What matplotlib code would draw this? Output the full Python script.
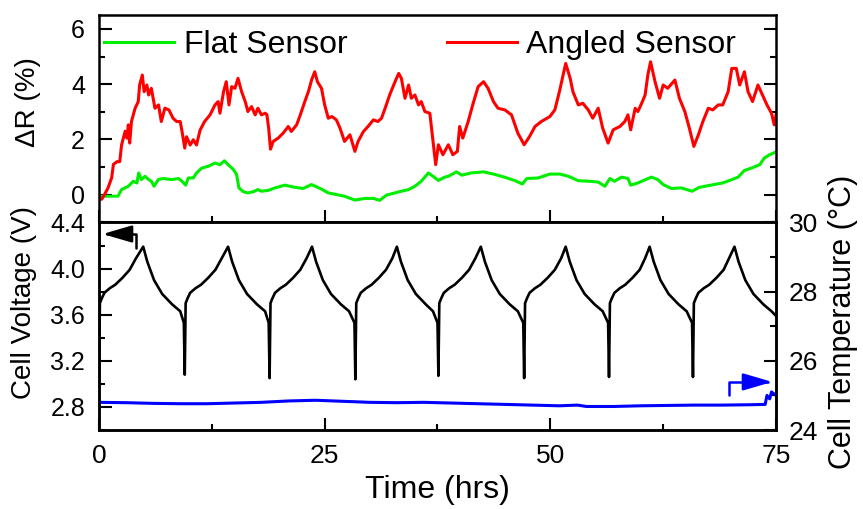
import matplotlib
matplotlib.use("Agg")
import matplotlib.pyplot as plt
from matplotlib.ticker import MultipleLocator

plt.rcParams['font.family'] = ['Liberation Sans', 'DejaVu Sans']

# ---- data ----
# resistance change, angled sensor (red)
t_red = [0.0, 0.3, 0.6, 1.0, 1.4, 1.6, 2.0, 2.3, 2.5, 2.9, 3.1, 3.25, 3.4, 3.6, 4.0, 4.35, 4.5, 4.8,
         5.0, 5.3, 5.5, 5.8, 6.2, 6.6, 6.9, 7.3, 7.75, 8.2, 8.6, 9.0, 9.2, 9.5, 9.7, 10.1, 10.45,
         10.8, 11.2, 11.7, 12.3, 12.85, 13.2, 13.4, 13.8, 14.1, 14.4, 14.7, 15.06, 15.4, 15.8, 16.2,
         16.5, 16.9, 17.3, 17.6, 18.0, 18.4, 18.6, 18.8, 19.0, 19.3, 19.85, 20.4, 20.97, 21.3, 21.9,
         22.3, 22.8, 23.2, 23.55, 23.9, 24.2, 24.65, 25.0, 25.4, 25.8, 26.3, 26.7, 27.2, 27.8, 28.35,
         28.7, 29.3, 29.8, 30.4, 30.9, 31.3, 31.7, 32.2, 32.8, 33.2, 33.5, 33.9, 34.3, 34.6, 35.0,
         35.4, 35.7, 36.1, 36.65, 37.0, 37.3, 37.6, 38.1, 38.7, 39.2, 39.7, 39.95, 40.3, 40.9, 41.4,
         42.0, 42.6, 43.1, 43.7, 44.2, 44.96, 45.7, 46.4, 47.1, 47.7, 48.3, 49.0, 49.95, 50.5, 51.05,
         51.7, 52.2, 52.5, 53.1, 53.6, 54.2, 54.7, 55.3, 55.8, 56.4, 56.96, 57.7, 58.25, 58.6, 58.9,
         59.4, 59.7, 60.2, 60.5, 60.8, 61.1, 61.6, 62.1, 62.5, 63.0, 63.8, 64.3, 64.9, 65.4, 65.9,
         66.4, 66.9, 67.5, 68.0, 68.6, 69.1, 69.7, 70.1, 70.6, 70.98, 71.5, 71.9, 72.4, 73.0, 73.5,
         74.0, 74.5, 74.8, 75.0]
dr_red = [-0.1, -0.16, 0.0, 0.25, 0.61, 1.1, 1.2, 1.2, 1.8, 2.3, 2.05, 2.53, 1.87, 2.65, 3.13, 3.37,
          3.97, 4.33, 3.73, 3.97, 3.61, 3.85, 3.13, 3.25, 2.65, 3.13, 3.07, 2.77, 2.65, 2.65, 2.29,
          1.69, 2.1, 1.8, 1.99, 1.8, 2.34, 2.65, 2.89, 3.25, 3.37, 2.95, 3.73, 4.09, 3.25, 3.91, 3.85,
          4.21, 3.73, 3.37, 3.01, 3.19, 2.89, 3.13, 2.89, 2.95, 2.9, 2.4, 1.65, 1.93, 2.05, 2.23, 2.47,
          2.29, 2.53, 2.89, 3.37, 3.73, 4.15, 4.45, 4.09, 3.85, 3.25, 2.77, 2.83, 2.71, 2.41, 1.93,
          2.17, 1.57, 1.93, 2.29, 2.47, 2.71, 2.65, 2.77, 3.13, 3.61, 4.09, 4.39, 4.21, 3.49, 3.97,
          3.49, 3.61, 3.25, 3.37, 3.01, 2.95, 1.93, 1.09, 1.81, 1.45, 1.81, 1.45, 1.57, 2.47, 2.05,
          2.65, 3.25, 3.91, 4.09, 3.85, 3.37, 3.13, 3.07, 2.89, 2.23, 1.81, 2.11, 2.47, 2.65, 2.83,
          3.07, 3.79, 4.75, 4.21, 3.73, 3.25, 3.31, 3.07, 2.77, 3.13, 2.41, 1.87, 2.35, 2.47, 2.65,
          2.89, 2.35, 3.13, 3.01, 3.37, 3.61, 4.33, 4.81, 4.09, 3.49, 3.97, 3.85, 4.15, 3.49, 3.01,
          2.41, 1.75, 2.17, 2.65, 3.13, 3.07, 3.25, 3.25, 3.73, 4.57, 4.57, 3.97, 4.45, 3.73, 3.37,
          3.97, 3.61, 3.25, 2.95, 2.53, 2.89]

# resistance change, flat sensor (green)
t_green = [0.0, 1.4, 2.1, 2.5, 3.25, 3.8, 4.2, 4.4, 4.7, 5.1, 5.5, 5.8, 6.1, 6.57, 7.1, 8.05, 8.8,
           9.2, 9.6, 9.9, 10.45, 10.8, 11.4, 12.1, 12.85, 13.4, 13.9, 14.3, 14.9, 15.25, 15.5, 16.0,
           16.5, 17.1, 17.6, 18.0, 18.75, 19.5, 20.6, 21.7, 22.6, 23.55, 24.5, 25.4, 26.3, 27.2,
           28.35, 29.45, 30.4, 31.1, 31.85, 32.8, 33.5, 34.3, 35.0, 35.7, 36.5, 37.0, 37.6, 38.3,
           38.7, 39.6, 40.2, 41.2, 42.6, 43.7, 45.0, 46.1, 46.9, 47.4, 48.65, 49.95, 51.05, 52.0,
           53.1, 54.4, 55.3, 56.05, 56.6, 57.1, 57.9, 58.6, 58.9, 59.7, 61.2, 61.9, 62.5, 63.4, 64.5,
           65.7, 66.5, 67.8, 69.1, 70.1, 70.8, 71.5, 72.3, 73.2, 73.7, 74.3, 75.0]
dr_green = [-0.05, -0.05, -0.05, 0.19, 0.31, 0.49, 0.43, 0.79, 0.55, 0.67, 0.55, 0.49, 0.31, 0.55,
            0.59, 0.55, 0.59, 0.49, 0.35, 0.61, 0.61, 0.79, 0.97, 1.03, 1.15, 1.09, 1.23, 1.09, 0.91,
            0.73, 0.25, 0.11, 0.07, 0.11, 0.19, 0.13, 0.16, 0.25, 0.35, 0.27, 0.23, 0.37, 0.23, 0.07,
            0.01, -0.05, -0.19, -0.13, -0.13, -0.2, -0.01, 0.07, 0.13, 0.19, 0.31, 0.49, 0.79, 0.67,
            0.52, 0.64, 0.67, 0.83, 0.71, 0.79, 0.83, 0.75, 0.63, 0.51, 0.39, 0.59, 0.61, 0.75, 0.75,
            0.67, 0.51, 0.49, 0.46, 0.31, 0.59, 0.49, 0.64, 0.59, 0.35, 0.43, 0.64, 0.55, 0.37, 0.23,
            0.25, 0.13, 0.27, 0.35, 0.43, 0.55, 0.64, 0.88, 0.97, 1.09, 1.33, 1.45, 1.55]

# cell voltage (black)
t_volt = [0.0, 0.1, 0.3, 0.6, 1.2, 1.8, 2.6, 3.4, 4.1, 4.9, 5.35, 6.1, 7.0, 8.1, 9.0, 9.4,
          9.5, 9.6, 9.8, 10.1, 10.7, 11.3, 12.1, 12.9, 13.6, 14.3, 14.75, 15.5, 16.4, 17.5, 18.4, 18.8,
          18.9, 19.0, 19.2, 19.5, 20.1, 20.7, 21.5, 22.3, 23.0, 23.6, 24.05, 24.8, 25.7, 26.8, 27.7, 28.3,
          28.4, 28.5, 28.7, 29.0, 29.6, 30.2, 31.0, 31.8, 32.5, 33.0, 33.45, 34.2, 35.1, 36.2, 37.0, 37.5,
          37.6, 37.7, 37.9, 38.2, 38.8, 39.4, 40.2, 41.0, 41.7, 42.3, 42.75, 43.5, 44.4, 45.5, 46.4, 47.0,
          47.1, 47.2, 47.4, 47.7, 48.3, 48.9, 49.7, 50.5, 51.2, 51.7, 52.15, 52.9, 53.8, 54.9, 55.8, 56.4,
          56.5, 56.6, 56.8, 57.1, 57.7, 58.3, 59.1, 59.9, 60.5, 61.0, 61.45, 62.2, 63.1, 64.2, 65.1, 65.7,
          65.8, 65.9, 66.1, 66.4, 67.0, 67.6, 68.4, 69.2, 69.8, 70.4, 70.85, 71.6, 72.5, 73.6, 74.5, 75.0]
volt = [3.05, 3.70, 3.74, 3.79, 3.83, 3.86, 3.92, 3.99, 4.09, 4.19, 4.06, 3.90, 3.78, 3.69, 3.63, 3.53,
        3.08, 3.70, 3.74, 3.79, 3.83, 3.86, 3.92, 3.99, 4.09, 4.19, 4.06, 3.90, 3.78, 3.69, 3.63, 3.53,
        3.05, 3.70, 3.74, 3.79, 3.83, 3.86, 3.92, 3.99, 4.09, 4.19, 4.06, 3.90, 3.78, 3.69, 3.63, 3.53,
        3.04, 3.70, 3.74, 3.79, 3.83, 3.86, 3.92, 3.99, 4.09, 4.19, 4.06, 3.90, 3.78, 3.69, 3.63, 3.53,
        3.07, 3.70, 3.74, 3.79, 3.83, 3.86, 3.92, 3.99, 4.09, 4.19, 4.06, 3.90, 3.78, 3.69, 3.63, 3.53,
        3.05, 3.70, 3.74, 3.79, 3.83, 3.86, 3.92, 3.99, 4.09, 4.19, 4.06, 3.90, 3.78, 3.69, 3.63, 3.53,
        3.06, 3.70, 3.74, 3.79, 3.83, 3.86, 3.92, 3.99, 4.09, 4.19, 4.06, 3.90, 3.78, 3.69, 3.63, 3.53,
        3.06, 3.70, 3.74, 3.79, 3.83, 3.86, 3.92, 3.99, 4.09, 4.19, 4.06, 3.90, 3.78, 3.69, 3.63, 3.59]

# cell temperature (blue)
t_temp = [0, 3, 6, 9, 12, 15, 18, 21, 24, 27, 30, 33, 36, 39, 42, 45, 48, 51, 53, 54, 57, 60, 63,
          66, 69, 72, 73.8, 74.0, 74.3, 74.5, 75.0]
temp = [24.80, 24.79, 24.77, 24.76, 24.76, 24.78, 24.80, 24.84, 24.86, 24.83, 24.80, 24.79, 24.80,
        24.78, 24.76, 24.74, 24.72, 24.70, 24.72, 24.68, 24.68, 24.70, 24.71, 24.72, 24.72, 24.73,
        24.74, 25.0, 24.9, 25.1, 25.0]

fig = plt.figure(figsize=(8.63, 5.09), dpi=100)
ax1 = fig.add_axes([0.1147, 0.5629, 0.7845, 0.4076])
ax2 = fig.add_axes([0.1147, 0.1552, 0.7845, 0.4077], sharex=ax1)
ax3 = ax2.twinx()

ax1.plot(t_green, dr_green, color='#00ee00', lw=2.2, label='Flat Sensor')
ax1.plot(t_red, dr_red, color='#ff0000', lw=2.2, label='Angled Sensor')
ax2.plot(t_volt, volt, color='black', lw=1.9)
ax3.plot(t_temp, temp, color='#0000ff', lw=2.2)

ax1.set_xlim(0, 75)
ax1.set_ylim(-1, 6.5)
ax2.set_ylim(2.6, 4.4)
ax3.set_ylim(24, 30)

for a in (ax1, ax2, ax3):
    for s in a.spines.values():
        s.set_linewidth(1.8)

ax1.xaxis.set_major_locator(MultipleLocator(25))
ax1.yaxis.set_major_locator(MultipleLocator(2))
ax1.yaxis.set_minor_locator(MultipleLocator(1))
ax1.tick_params(axis='both', which='both', direction='in', width=1.5, labelsize=18, right=True)
ax1.tick_params(which='major', length=9)
ax1.tick_params(which='minor', length=4.5)
ax1.tick_params(axis='x', labelbottom=False)
ax1.tick_params(axis='y', pad=10)

ax2.xaxis.set_major_locator(MultipleLocator(25))
ax2.xaxis.set_minor_locator(MultipleLocator(12.5))
ax2.yaxis.set_major_locator(MultipleLocator(0.4))
ax2.yaxis.set_minor_locator(MultipleLocator(0.2))
ax2.tick_params(axis='both', which='both', direction='in', width=1.5)
ax2.tick_params(which='major', length=9)
ax2.tick_params(which='minor', length=4.5)
ax2.tick_params(axis='y', labelsize=18, pad=10)
ax2.tick_params(axis='x', labelsize=19, pad=10)

ax3.yaxis.set_major_locator(MultipleLocator(2))
ax3.yaxis.set_minor_locator(MultipleLocator(1))
ax3.tick_params(axis='y', which='both', direction='in', width=1.5, labelsize=19, pad=9)
ax3.tick_params(which='major', length=9)
ax3.tick_params(which='minor', length=4.5)

ax1.set_ylabel('ΔR (%)', fontsize=20)
ax1.yaxis.set_label_coords(-0.085, 0.58)
ax2.set_ylabel('Cell Voltage (V)', fontsize=20)
ax2.yaxis.set_label_coords(-0.092, 0.615)
ax3.set_ylabel('Cell Temperature (°C)', fontsize=22)
ax3.yaxis.set_label_coords(1.077, 0.52)
ax2.set_xlabel('Time (hrs)', fontsize=23)
ax2.xaxis.set_label_coords(0.5, -0.215)

ax1.legend(loc='upper left', bbox_to_anchor=(-0.035, 1.065), ncol=2, frameon=False, fontsize=23,
           handlelength=2.2, handletextpad=0.3, columnspacing=3.1)

# direction arrows
ax2.annotate('', xy=(0.4, 4.30), xytext=(4.1, 4.18),
             arrowprops=dict(arrowstyle='-|>,head_length=1.2,head_width=0.35', mutation_scale=15,
                             connectionstyle='angle,angleA=90,angleB=0,rad=0', color='black',
                             lw=1.8, shrinkA=0, shrinkB=0))
ax3.annotate('', xy=(74.6, 25.39), xytext=(69.8, 25.02),
             arrowprops=dict(arrowstyle='-|>,head_length=1.2,head_width=0.35', mutation_scale=15,
                             connectionstyle='angle,angleA=90,angleB=0,rad=0', color='#0000ff',
                             lw=1.8, shrinkA=0, shrinkB=0))

fig.savefig('out.png', dpi=100)
